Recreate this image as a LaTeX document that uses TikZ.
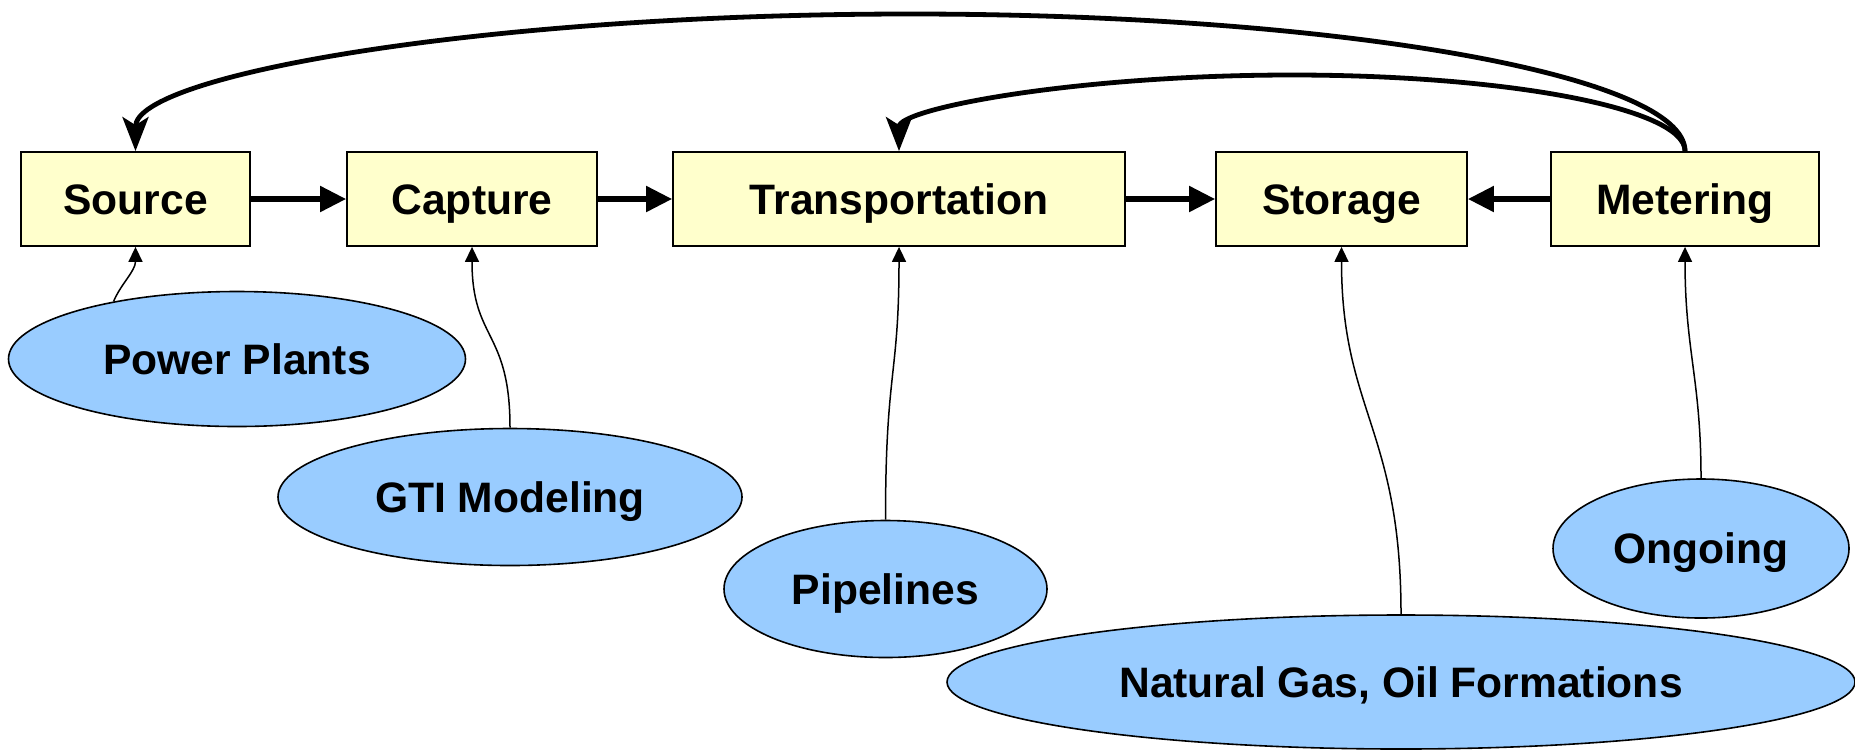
\documentclass[tikz,border=0pt]{standalone}
\usepackage{fontspec}
\setmainfont{Liberation Sans}
\usetikzlibrary{shapes.geometric,arrows.meta}
\definecolor{boxyellow}{HTML}{FFFFCC}
\definecolor{itemblue}{HTML}{99CCFF}
\begin{document}
\begin{tikzpicture}[x=0.5pt,y=-0.5pt,
  lbl/.style={font=\fontsize{21.3}{25}\selectfont\bfseries,text height=15.25pt,text depth=0pt},
  stage/.style={lbl,draw=black,line width=0.9pt,fill=boxyellow,inner sep=0pt,minimum height=47pt},
  item/.style={lbl,ellipse,draw=black,line width=0.8pt,fill=itemblue,inner sep=0pt},
  flow/.style={line width=2.6pt,-{Triangle[length=13pt,width=12.5pt]}},
  back/.style={line width=2.4pt,-{Stealth[length=17pt,width=13pt,inset=4pt]}},
  feed/.style={line width=0.75pt,-{Triangle[length=7.5pt,width=7pt]}}
]
\path[use as bounding box,fill=white] (0,0) rectangle (1855,751);

% stages
\node[stage,minimum width=114.5pt] (src) at (135.5,199) {Source};
\node[stage,minimum width=125pt]   (cap) at (472,199)   {Capture};
\node[stage,minimum width=226pt]   (tr)  at (899,199)   {Transportation};
\node[stage,minimum width=125.5pt] (st)  at (1341.5,199){Storage};
\node[stage,minimum width=134pt]   (met) at (1685,199)  {Metering};

% items
\node[item,minimum width=228.5pt,minimum height=67.5pt] (pp)  at (237,359)    {Power Plants};
\node[item,minimum width=232pt,minimum height=68.5pt]   (gti) at (510,497)    {GTI Modeling};
\node[item,minimum width=161.5pt,minimum height=68.5pt] (pl)  at (885.5,589)  {Pipelines};
\node[item,minimum width=454pt,minimum height=67pt]     (ng)  at (1401,682)   {Natural Gas, Oil Formations};
\node[item,minimum width=148pt,minimum height=69.5pt]   (og)  at (1701,548.5) {Ongoing};

% main flow
\draw[flow] (src.east) -- (cap.west);
\draw[flow] (cap.east) -- (tr.west);
\draw[flow] (tr.east) -- (st.west);
\draw[flow] (met.west) -- (st.east);

% feedback arcs
\coordinate (apexA) at (910.25,14);
\coordinate (apexB) at (1292,75);
\draw[back] (met.north) .. controls +(0,-76) and +(428,0) .. (apexA)
            .. controls +(-428,0) and +(0,-76) .. (src.north);
\draw[back] (met.north) .. controls +(0,-42.5) and +(217,0) .. (apexB)
            .. controls +(-217,0) and +(0,-42.5) .. (tr.north);

% feeders
\draw[feed] (pp.155) .. controls +(7,-17) and +(0,24) .. (src.south);
\draw[feed] (gti.north) .. controls +(0,-98) and +(0,94) .. (cap.south);
\draw[feed] (pl.north) .. controls +(0,-150) and +(0,130) .. (tr.south);
\draw[feed] (ng.north) .. controls +(0,-185) and +(0,164) .. (st.south);
\draw[feed] (og.north) .. controls +(0,-99) and +(0,104) .. (met.south);
\end{tikzpicture}
\end{document}
